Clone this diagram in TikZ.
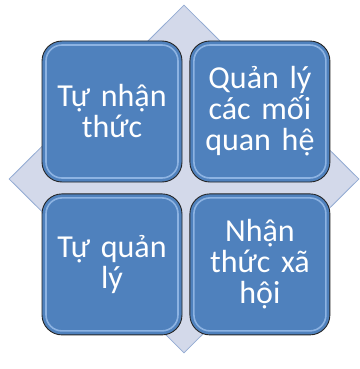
\documentclass[tikz,border=0pt]{standalone}
\usepackage{fontspec}
\setmainfont{Carlito}
\usetikzlibrary{shapes.geometric,positioning}
\definecolor{boxblue}{HTML}{4F81BD}
\definecolor{boxedge}{HTML}{262626}
\definecolor{boxrim}{HTML}{8DB3E2}
\definecolor{backfill}{HTML}{D3D9EA}
\definecolor{backedge}{HTML}{93ABD3}

\begin{document}
\begin{tikzpicture}[x=1pt,y=-1pt,
  skill node/.style={rectangle,rounded corners=20pt,draw=boxedge,line width=0.9pt,
    fill=boxblue,minimum width=140pt,minimum height=141pt,inner sep=0pt,
    text=white,text width=136pt,align=center,
    font=\fontsize{32}{31}\selectfont,
    path picture={\draw[boxrim,line width=1.6pt,rounded corners=16pt]
      ([xshift=4pt,yshift=-4pt]path picture bounding box.north west) rectangle
      ([xshift=-4pt,yshift=4pt]path picture bounding box.south east);}},
  back node/.style={diamond,draw=backedge,fill=backfill,line width=0.8pt,
    minimum width=350pt,minimum height=348pt,inner sep=0pt}]

  \useasboundingbox (0,0) rectangle (359,369);

  \node[back node] (nen) at (184,179) {};

  \node[skill node] (tunhan) at (112,111.5) {Tự nhận\\thức};
  \node[skill node] (quanhe) [right=7pt of tunhan] {Quản lý\\các mối\\quan hệ};
  \node[skill node] (tuquan) [below=11pt of tunhan] {Tự quản\\lý};
  \node[skill node] (xahoi) [below=11pt of quanhe] {Nhận\\thức xã\\hội};

\end{tikzpicture}
\end{document}
